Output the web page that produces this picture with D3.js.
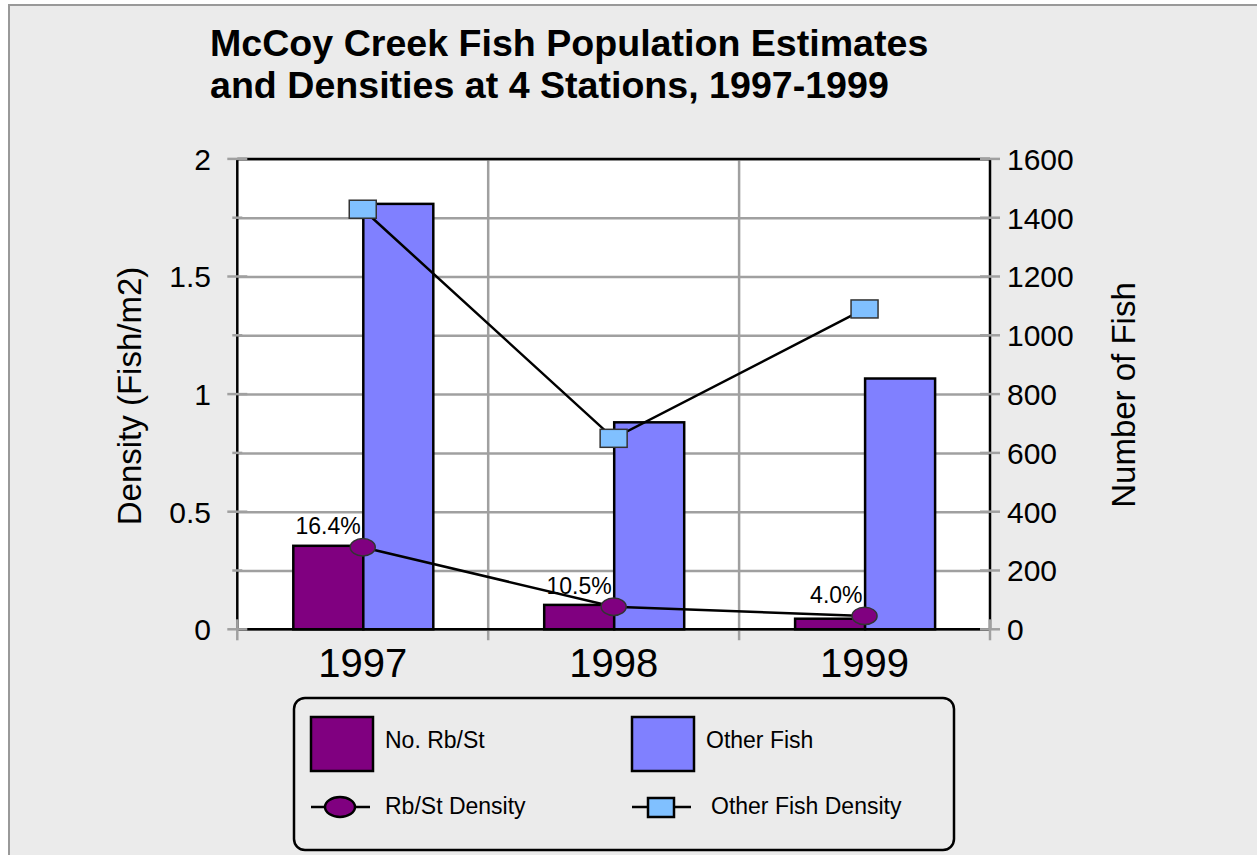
<!DOCTYPE html>
<html>
<head>
<meta charset="utf-8">
<script src="https://cdn.jsdelivr.net/npm/d3@7"></script>
<style>
  body { margin: 0; background: #fff; }
  svg { display: block; font-family: "Liberation Sans", Arial, sans-serif; }
</style>
</head>
<body>
<div id="chart"></div>
<script>
// data
const years = ["1997", "1998", "1999"];
const rbstCount = [284, 83, 36];
const otherCount = [1447, 704, 853];
const rbstDensity = [0.349, 0.096, 0.057];
const otherDensity = [1.786, 0.812, 1.362];
const pctLabels = ["16.4%", "10.5%", "4.0%"];
const densityTicks = [0, 0.5, 1, 1.5, 2];
const countTicks = [0, 200, 400, 600, 800, 1000, 1200, 1400, 1600];

const w = 1257;
const h = 855;

// plot box
const pL = 237.3, pR = 990, pT = 158.9, pB = 629.3;

const svg = d3.select("#chart")
              .append("svg")
              .attr("width", w)
              .attr("height", h);

// page background + frame
svg.append("rect")
   .attr("x", 9).attr("y", 5)
   .attr("width", w).attr("height", h)
   .attr("fill", "#ebebeb")
   .attr("stroke", "#999")
   .attr("stroke-width", 2);

// title
const title = svg.append("text")
   .style("font-size", "37.6px")
   .style("font-weight", "bold");
title.append("tspan").attr("x", 210).attr("y", 56).text("McCoy Creek Fish Population Estimates");
title.append("tspan").attr("x", 210).attr("y", 98).text("and Densities at 4 Stations, 1997-1999");

// scales
const x0 = d3.scaleBand().domain(years).range([pL, pR]);
const x1 = d3.scaleBand().domain(["rbst", "other"]).range([56, 196]);
const yL = d3.scaleLinear().domain([0, 2]).range([pB, pT]);
const yR = d3.scaleLinear().domain([0, 1600]).range([pB, pT]);

// plot area
svg.append("rect")
   .attr("x", pL).attr("y", pT)
   .attr("width", pR - pL).attr("height", pB - pT)
   .attr("fill", "#fff");

// horizontal grid
svg.append("g")
   .attr("transform", `translate(${pL},0)`)
   .call(d3.axisLeft(yL).tickValues(d3.range(0, 2.01, 0.25)).tickSize(-(pR - pL)).tickFormat(""))
   .call(g => g.select(".domain").remove())
   .selectAll("line")
   .attr("stroke", "#a0a0a0")
   .attr("stroke-width", 2.5);

// vertical grid at category edges
svg.selectAll(".vgrid")
   .data(years.slice(1))
   .enter()
   .append("line")
   .attr("class", "vgrid")
   .attr("x1", d => x0(d)).attr("x2", d => x0(d))
   .attr("y1", pT).attr("y2", pB + 11)
   .attr("stroke", "#a0a0a0")
   .attr("stroke-width", 2.5);

// bars
const groups = svg.selectAll(".yr")
   .data(years)
   .enter()
   .append("g")
   .attr("transform", d => `translate(${x0(d)},0)`);

groups.append("rect")
   .attr("x", x1("rbst"))
   .attr("y", (d, i) => yR(rbstCount[i]))
   .attr("width", x1.bandwidth())
   .attr("height", (d, i) => pB - yR(rbstCount[i]))
   .attr("fill", "#800080")
   .attr("stroke", "#000")
   .attr("stroke-width", 2.5);

groups.append("rect")
   .attr("x", x1("other"))
   .attr("y", (d, i) => yR(otherCount[i]))
   .attr("width", x1.bandwidth())
   .attr("height", (d, i) => pB - yR(otherCount[i]))
   .attr("fill", "#8080ff")
   .attr("stroke", "#000")
   .attr("stroke-width", 2.5);

// axis lines (black)
const axisLines = [
  [pL, pT, pL, pB],
  [pR, pT, pR, pB],
  [pL, pT, pR, pT],
  [pL, pB, pR, pB]
];
svg.selectAll(".axl")
   .data(axisLines)
   .enter()
   .append("line")
   .attr("x1", d => d[0]).attr("y1", d => d[1])
   .attr("x2", d => d[2]).attr("y2", d => d[3])
   .attr("stroke", "#000")
   .attr("stroke-width", 2.5);

// gray tick marks
const minor = d3.range(0, 2.01, 0.25);
svg.selectAll(".ltick")
   .data(minor)
   .enter()
   .append("line")
   .attr("x1", (d, i) => i % 2 ? pL - 5 : pL - 10)
   .attr("x2", (d, i) => i % 2 ? pL + 5 : pL + 10)
   .attr("y1", d => yL(d)).attr("y2", d => yL(d))
   .attr("stroke", "#a0a0a0").attr("stroke-width", 2.5);

svg.selectAll(".rtick")
   .data(countTicks)
   .enter()
   .append("line")
   .attr("x1", pR - 10).attr("x2", pR + 10)
   .attr("y1", d => yR(d)).attr("y2", d => yR(d))
   .attr("stroke", "#a0a0a0").attr("stroke-width", 2.5);

svg.selectAll(".btick")
   .data([pL, pR])
   .enter()
   .append("line")
   .attr("x1", d => d).attr("x2", d => d)
   .attr("y1", pB - 10).attr("y2", pB + 11)
   .attr("stroke", "#a0a0a0").attr("stroke-width", 2.5);

// tick labels
svg.append("g")
   .selectAll("text")
   .data(densityTicks)
   .enter()
   .append("text")
   .attr("x", 211)
   .attr("y", d => yL(d))
   .attr("dy", "0.36em")
   .attr("text-anchor", "end")
   .style("font-size", "30px")
   .text(d => d);

svg.append("g")
   .selectAll("text")
   .data(countTicks)
   .enter()
   .append("text")
   .attr("x", 1007)
   .attr("y", d => yR(d))
   .attr("dy", "0.36em")
   .style("font-size", "30px")
   .text(d => d);

svg.append("g")
   .selectAll("text")
   .data(years)
   .enter()
   .append("text")
   .attr("x", d => x0(d) + x0.bandwidth() / 2)
   .attr("y", 677)
   .attr("text-anchor", "middle")
   .style("font-size", "40px")
   .text(d => d);

// axis titles
svg.append("text")
   .attr("transform", "translate(141,396) rotate(-90)")
   .attr("text-anchor", "middle")
   .style("font-size", "33px")
   .text("Density (Fish/m2)");

svg.append("text")
   .attr("transform", "translate(1135,395) rotate(-90)")
   .attr("text-anchor", "middle")
   .style("font-size", "33px")
   .text("Number of Fish");

// density lines
const cx = d => x0(d) + x0.bandwidth() / 2;
const lineL = d3.line().x(d => cx(d[0])).y(d => yL(d[1]));

svg.append("path")
   .datum(years.map((d, i) => [d, otherDensity[i]]))
   .attr("d", lineL)
   .attr("fill", "none")
   .attr("stroke", "#000")
   .attr("stroke-width", 2.5);

svg.append("path")
   .datum(years.map((d, i) => [d, rbstDensity[i]]))
   .attr("d", lineL)
   .attr("fill", "none")
   .attr("stroke", "#000")
   .attr("stroke-width", 2.5);

svg.selectAll(".sq")
   .data(years)
   .enter()
   .append("rect")
   .attr("x", d => cx(d) - 13.5)
   .attr("y", (d, i) => yL(otherDensity[i]) - 9)
   .attr("width", 27).attr("height", 18)
   .attr("fill", "#80c0ff")
   .attr("stroke", "#333")
   .attr("stroke-width", 1.5);

svg.selectAll(".ov")
   .data(years)
   .enter()
   .append("ellipse")
   .attr("cx", d => cx(d))
   .attr("cy", (d, i) => yL(rbstDensity[i]))
   .attr("rx", 12.5).attr("ry", 8.7)
   .attr("fill", "#800080")
   .attr("stroke", "#333")
   .attr("stroke-width", 1.5);

// percent labels
svg.selectAll(".pct")
   .data(years)
   .enter()
   .append("text")
   .attr("x", d => cx(d) - 2)
   .attr("y", (d, i) => yL(rbstDensity[i]) - 13)
   .attr("text-anchor", "end")
   .style("font-size", "23px")
   .text((d, i) => pctLabels[i]);

// legend
const lg = svg.append("g");
lg.append("rect")
  .attr("x", 294).attr("y", 698)
  .attr("width", 660).attr("height", 152)
  .attr("rx", 11)
  .attr("fill", "#ebebeb")
  .attr("stroke", "#000")
  .attr("stroke-width", 2.5);

const barKeys = [
  {label: "No. Rb/St", color: "#800080", x: 311},
  {label: "Other Fish", color: "#8080ff", x: 632}
];
lg.selectAll(".bk")
  .data(barKeys)
  .enter()
  .append("rect")
  .attr("x", d => d.x).attr("y", 717)
  .attr("width", 62).attr("height", 54)
  .attr("fill", d => d.color)
  .attr("stroke", "#000")
  .attr("stroke-width", 2.5);
lg.selectAll(".bt")
  .data(barKeys)
  .enter()
  .append("text")
  .attr("x", d => d.x + 74).attr("y", 748)
  .style("font-size", "23px")
  .text(d => d.label);

// line keys
lg.selectAll(".lk")
  .data([311, 632])
  .enter()
  .append("line")
  .attr("x1", d => d).attr("x2", d => d + 59)
  .attr("y1", 807).attr("y2", 807)
  .attr("stroke", "#000").attr("stroke-width", 2.5);
lg.append("ellipse")
  .attr("cx", 340).attr("cy", 807)
  .attr("rx", 15).attr("ry", 10)
  .attr("fill", "#800080").attr("stroke", "#000").attr("stroke-width", 2.5);
lg.append("rect")
  .attr("x", 648).attr("y", 798)
  .attr("width", 26).attr("height", 19)
  .attr("fill", "#80c0ff").attr("stroke", "#000").attr("stroke-width", 2.5);
lg.append("text")
  .attr("x", 385).attr("y", 814)
  .style("font-size", "23px")
  .text("Rb/St Density");
lg.append("text")
  .attr("x", 711).attr("y", 814)
  .style("font-size", "23px")
  .text("Other Fish Density");
</script>
</body>
</html>
